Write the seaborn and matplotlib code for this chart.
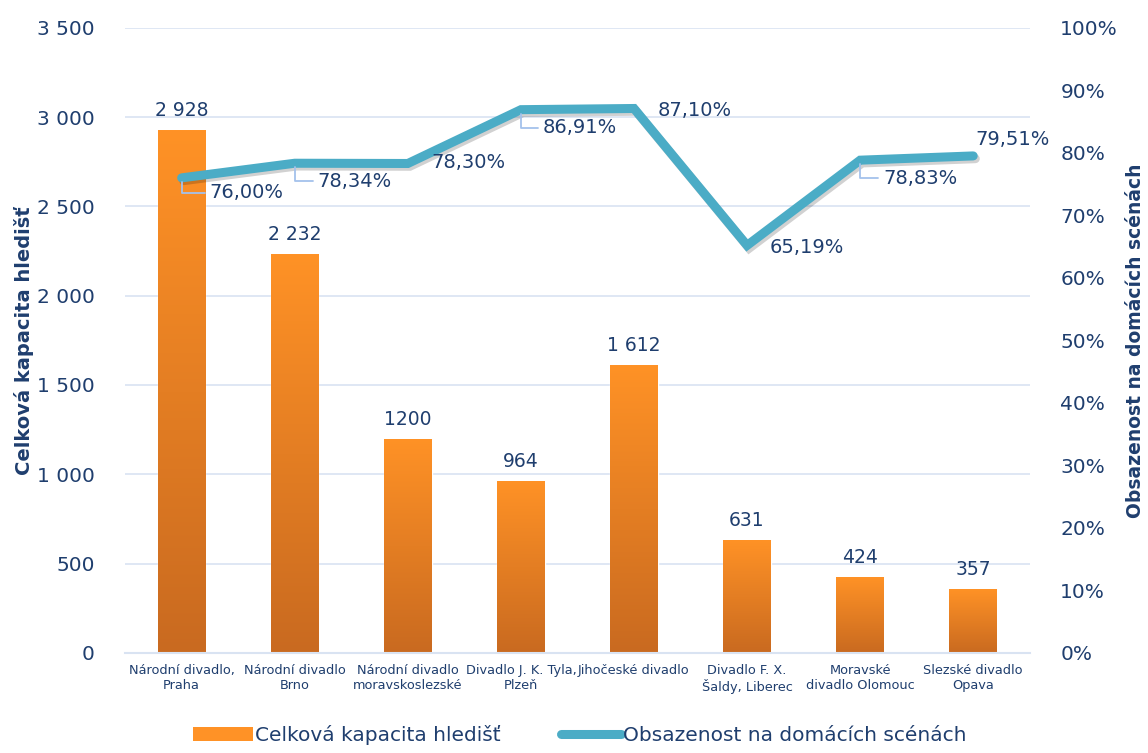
import numpy as np
import pandas as pd
import matplotlib
matplotlib.use('Agg')
import matplotlib.pyplot as plt
import matplotlib.patheffects as pe
from matplotlib.ticker import FuncFormatter, MultipleLocator
from matplotlib.colors import LinearSegmentedColormap
from matplotlib.lines import Line2D
from matplotlib.patches import Patch
import seaborn as sns

# Data
divadla = ['Národní divadlo,\nPraha', 'Národní divadlo\nBrno', 'Národní divadlo\nmoravskoslezské',
           'Divadlo J. K. Tyla,\nPlzeň', 'Jihočeské divadlo', 'Divadlo F. X.\nŠaldy, Liberec',
           'Moravské\ndivadlo Olomouc', 'Slezské divadlo\nOpava']
kapacita = [2928, 2232, 1200, 964, 1612, 631, 424, 357]
kapacita_popisky = ['2 928', '2 232', '1200', '964', '1 612', '631', '424', '357']
obsazenost = [76.00, 78.34, 78.30, 86.91, 87.10, 65.19, 78.83, 79.51]
obsazenost_popisky = ['76,00%', '78,34%', '78,30%', '86,91%', '87,10%', '65,19%', '78,83%', '79,51%']

# posun popisku (px) a zda ma odkazovou caru
popisek_posun = [(28, -15), (23, -18), (24, 1), (22, -18), (24, -2), (23, -2), (23, -18), (2, 16)]
popisek_cara = [True, True, False, True, False, False, True, False]

TEXT = '#1F3E6E'
GRID = '#D9E3F2'
ORANGE_TOP = '#FF9226'
ORANGE_BOT = '#C96A20'
TEAL = '#4BACC6'

sns.set_style('white')
plt.rcParams['font.family'] = ['DejaVu Sans']

df = pd.DataFrame({'divadlo': divadla, 'kapacita': kapacita, 'obsazenost': obsazenost})

fig = plt.figure(figsize=(11.48, 7.53), dpi=100)
ax = fig.add_axes([0.109, 0.133, 0.788, 0.830])

sns.barplot(data=df, x='divadlo', y='kapacita', color=ORANGE_TOP, width=0.42, ax=ax, zorder=2)

# gradient na sloupcich
cmap = LinearSegmentedColormap.from_list('grad', [ORANGE_BOT, ORANGE_TOP])
grad = np.linspace(0, 1, 256).reshape(-1, 1)
for p in ax.patches:
    x0, y0 = p.get_x(), p.get_y()
    w, h = p.get_width(), p.get_height()
    im = ax.imshow(grad, cmap=cmap, extent=[x0, x0 + w, y0, y0 + h], origin='lower',
                   aspect='auto', zorder=2.1)
    im.set_clip_path(p)

ax.set_xlim(-0.5, len(divadla) - 0.5)
ax.set_ylim(0, 3500)
ax.yaxis.set_major_locator(MultipleLocator(500))
ax.yaxis.set_major_formatter(FuncFormatter(lambda v, _: f'{int(v):,}'.replace(',', ' ')))
ax.grid(axis='y', color=GRID, linewidth=1.2, zorder=0)
ax.set_axisbelow(True)
for s in ['top', 'left', 'right']:
    ax.spines[s].set_visible(False)
ax.spines['bottom'].set_color(GRID)
ax.spines['bottom'].set_linewidth(1.5)
ax.tick_params(axis='y', length=0, pad=22, labelsize=14.5, labelcolor=TEXT)
ax.tick_params(axis='x', length=0, pad=8, labelsize=9.3, labelcolor=TEXT)
ax.set_xlabel('')
ax.set_ylabel('Celková kapacita hledišť', fontsize=14, fontweight='bold', color=TEXT, labelpad=2)

for i, (v, t) in enumerate(zip(kapacita, kapacita_popisky)):
    ax.annotate(t, (i, v), xytext=(0, 10), textcoords='offset pixels', ha='center', va='bottom',
                fontsize=13.5, color=TEXT)

ax2 = ax.twinx()
sns.lineplot(x=np.arange(len(divadla)), y=obsazenost, color=TEAL, linewidth=6.5,
             ax=ax2, zorder=3, solid_capstyle='round', solid_joinstyle='miter',
             path_effects=[pe.SimpleLineShadow(offset=(1.5, -2), alpha=0.18), pe.Normal()])
ax2.set_ylim(0, 100)
ax2.yaxis.set_major_locator(MultipleLocator(10))
ax2.yaxis.set_major_formatter(FuncFormatter(lambda v, _: f'{int(v)}%'))
for s in ['top', 'left', 'right', 'bottom']:
    ax2.spines[s].set_visible(False)
ax2.tick_params(axis='y', length=0, pad=22, labelsize=14.5, labelcolor=TEXT)
ax2.set_ylabel('Obsazenost na domácích scénách', fontsize=13.5, fontweight='bold', color=TEXT,
               labelpad=6)

for i, (v, t) in enumerate(zip(obsazenost, obsazenost_popisky)):
    dx, dy = popisek_posun[i]
    arrow = None
    if popisek_cara[i]:
        arrow = dict(arrowstyle='-', color='#A4C2EC', lw=1.3, shrinkA=1, shrinkB=3,
                     connectionstyle='angle,angleA=0,angleB=90,rad=0')
    ax2.annotate(t, (i, v), xytext=(dx, dy), textcoords='offset pixels', ha='left', va='center',
                 fontsize=14, color=TEXT, arrowprops=arrow, zorder=4)

handles = [Patch(facecolor=ORANGE_TOP, edgecolor='none'),
           Line2D([0], [0], color=TEAL, linewidth=6.5, solid_capstyle='round')]
fig.legend(handles, ['Celková kapacita hledišť', 'Obsazenost na domácích scénách'],
           loc='lower center', bbox_to_anchor=(0.505, -0.014), ncol=2, frameon=False,
           fontsize=14.5, labelcolor=TEXT, handlelength=3.0, handletextpad=0.1, columnspacing=3.0)

plt.savefig('out.png', dpi=100)
plt.close()
